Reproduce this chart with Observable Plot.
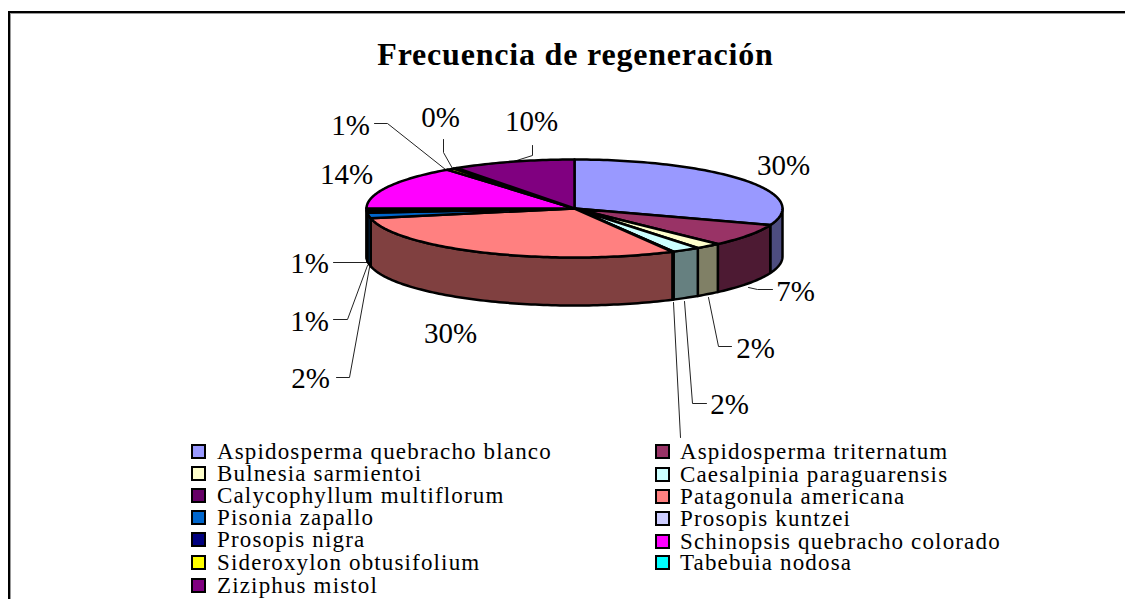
<!DOCTYPE html>
<html><head><meta charset="utf-8">
<script src="https://cdn.jsdelivr.net/npm/d3@7"></script>
<script src="https://cdn.jsdelivr.net/npm/@observablehq/plot@0.6"></script>
<style>
html,body{margin:0;padding:0;background:#fff;overflow:hidden}
body{width:1125px;height:599px;position:relative;font-family:"Liberation Serif",serif;color:#000;overflow:hidden}
#frame{position:absolute;left:8px;top:11px;width:1140px;height:600px;border:2.5px solid #000;border-bottom:none;box-sizing:border-box;box-shadow:inset 1px 1px 0 #999}
#title{position:absolute;left:0;width:1151px;top:36px;text-align:center;font:bold 32px "Liberation Serif",serif;letter-spacing:.8px;white-space:nowrap}
#chart{position:absolute;left:0;top:0}
#chart svg{display:block;background:transparent}
.lg{position:absolute;font-size:23px;line-height:21px;white-space:nowrap;letter-spacing:1.15px}
.lg i{position:absolute;width:15px;height:15px;box-sizing:border-box;border:2px solid #000}
</style></head><body>
<div id="frame"></div>
<div id="chart"></div>
<div id="title">Frecuencia de regeneración</div>
<div id="legend"></div>
<script>
const species = ["Aspidosperma quebracho blanco","Aspidosperma triternatum","Bulnesia sarmientoi","Caesalpinia paraguarensis","Calycophyllum multiflorum","Patagonula americana","Pisonia zapallo","Prosopis kuntzei","Prosopis nigra","Schinopsis quebracho colorado","Sideroxylon obtusifolium","Tabebuia nodosa","Ziziphus mistol"];
const percent = [30.49,7.41,2.0,2.2,0.1,29.6,1.8,0.7,0.8,14.45,0.6,0.3,9.55];
const colors = ["#9999FF","#993366","#FFFFCC","#CCFFFF","#660066","#FF8080","#0066CC","#CCCCFF","#000080","#FF00FF","#FFFF00","#00FFFF","#800080"];

// layout: pixel frame of the top ellipse and callout placement
const cx=[366,782], cy=[159,257], depth=48;
const ux=p=>(p-cx[0])/(cx[1]-cx[0])*2-1, uy=p=>(p-cy[0])/(cy[1]-cy[0])*2-1;
const uDepth=depth/((cy[1]-cy[0])/2);
const labelLayout={
 0:{at:[783,165]},
 1:{at:[795,291],path:[[748,287],[757,289],[772,289]]},
 2:{at:[755,348],path:[[708,297],[718,346],[731,346]]},
 3:{at:[729,404],path:[[684,301],[692,403],[706,403]]},
 4:{path:[[673,302],[680,437]]},
 5:{at:[450,333]},
 6:{at:[310,378],path:[[369,267],[349,377],[336,377]]},
 7:{at:[309,321],path:[[367,265],[347,319],[333,319]]},
 8:{at:[309,263],path:[[367,262],[333,262]]},
 9:{at:[346,174]},
 10:{at:[350,125],path:[[445,169],[387,123],[374,123]]},
 11:{at:[440,117],path:[[452,168],[443,152],[443,139]]},
 12:{at:[531,121],path:[[513,161],[532,155],[532,145]]}
};

const total=d3.sum(percent);
let acc=0;
const slices=percent.map((v,i)=>{const a0=acc/total*2*Math.PI;acc+=v;return {i,name:species[i],a0,a1:acc/total*2*Math.PI,color:colors[i],label:Math.round(v)+"%"};});
const rim=(a,dy=0)=>({x:Math.sin(a),y:-Math.cos(a)+dy});
const arc=(a0,a1)=>{const n=Math.max(1,Math.ceil((a1-a0)/0.02));return d3.range(n+1).map(k=>a0+(a1-a0)*k/n);};

const tops=[],sides=[];
for(const s of slices){
  tops.push({id:s.i,x:0,y:0,c:s.color});
  for(const a of arc(s.a0,s.a1)) tops.push({id:s.i,...rim(a),c:s.color});
  const lo=Math.max(s.a0,Math.PI/2), hi=Math.min(s.a1,3*Math.PI/2);
  if(hi>lo){
    const dark=d3.rgb(s.color); const c=d3.rgb(dark.r/2,dark.g/2,dark.b/2).formatHex();
    const as=arc(lo,hi);
    for(const a of as) sides.push({id:s.i,...rim(a),c});
    for(const a of as.slice().reverse()) sides.push({id:s.i,...rim(a,uDepth),c});
  }
}
const leaders=[];
for(const k in labelLayout){const p=labelLayout[k].path; if(p) p.forEach(q=>leaders.push({id:+k,x:ux(q[0]),y:uy(q[1])}));}
const labels=slices.filter(s=>labelLayout[s.i].at).map(s=>({x:ux(labelLayout[s.i].at[0]),y:uy(labelLayout[s.i].at[1]),t:s.label}));

const plot=Plot.plot({
  width:1125,height:599,margin:0,
  x:{domain:[-1,1],range:cx,axis:null},
  y:{domain:[-1,1],range:cy,axis:null},
  style:{background:"transparent"},
  marks:[
    Plot.line(leaders,{x:"x",y:"y",z:"id",stroke:"#222",strokeWidth:1,curve:"linear"}),
    Plot.line(sides,{x:"x",y:"y",z:"id",fill:"c",stroke:"#000",strokeWidth:2.5,strokeLinejoin:"round",curve:"linear-closed"}),
    Plot.line(tops,{x:"x",y:"y",z:"id",fill:"c",stroke:"#000",strokeWidth:2.5,strokeLinejoin:"round",curve:"linear-closed"}),
    Plot.text(labels,{x:"x",y:"y",text:"t",fontSize:29,fontFamily:"Liberation Serif",fill:"#000"})
  ]
});
document.getElementById("chart").append(plot);

// two-column legend, row by row
const leftRows=[452,474,496,518,540,563,586], rightRows=[452,475,497,519,542,563];
const lg=document.getElementById("legend");
species.forEach((n,i)=>{
  const col=i%2, row=(i-col)/2, y=(col?rightRows:leftRows)[row];
  const d=document.createElement("div"); d.className="lg";
  d.style.left=(col?680:217)+"px"; d.style.top=(y-11)+"px"; d.textContent=n;
  const sw=document.createElement("i"); sw.style.background=colors[i];
  sw.style.left=(col?-25:-26)+"px"; sw.style.top="3px"; d.append(sw);
  lg.append(d);
});
</script></body></html>
